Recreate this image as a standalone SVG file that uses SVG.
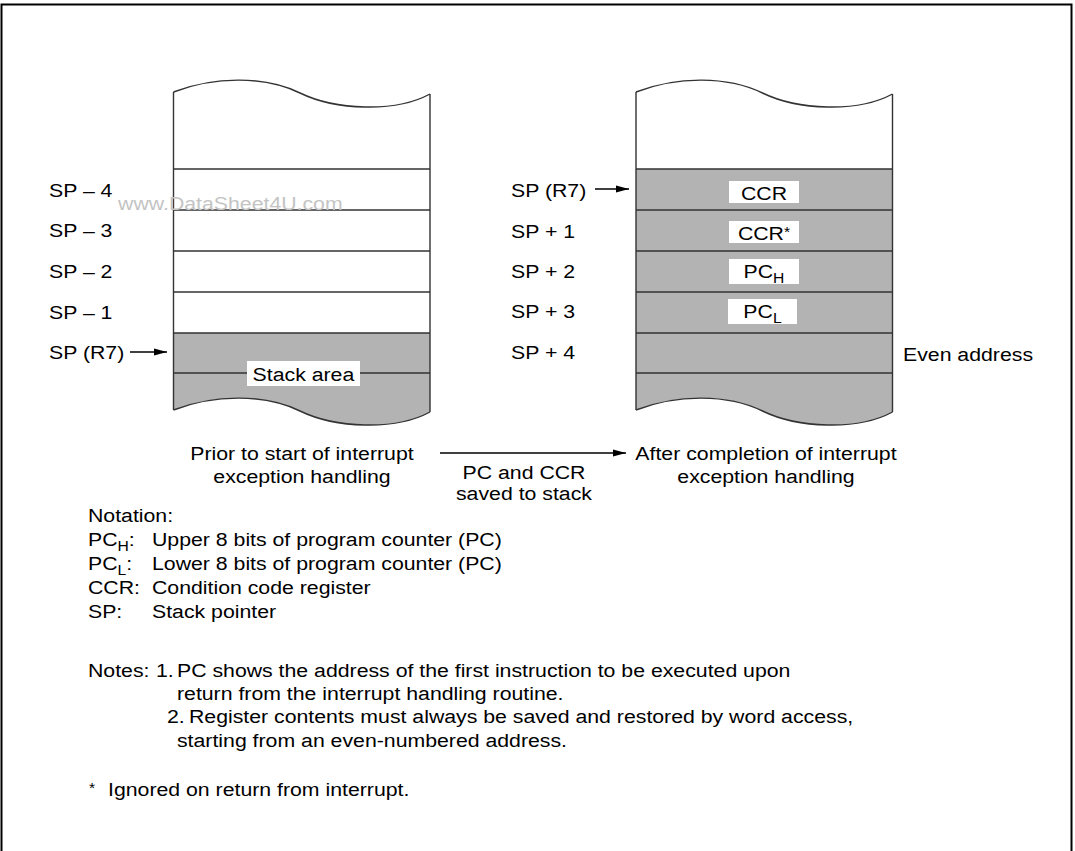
<svg xmlns="http://www.w3.org/2000/svg" width="1075" height="851" viewBox="0 0 1075 851">
<defs>
<marker id="ah" markerWidth="13" markerHeight="8" refX="13" refY="4" orient="auto" markerUnits="userSpaceOnUse">
<path d="M0,0.5 L13,4 L0,7.5 Z" fill="#000"/>
</marker>
</defs>
<style>
text{font-family:"Liberation Sans",Arial,Helvetica,sans-serif;font-size:19px;fill:#000;transform-box:fill-box;transform-origin:0% 50%;transform:scale(1.12,1)}
text.c{transform-origin:50% 50%}
.ln{stroke:#333;stroke-width:1.4;fill:none}
.gray{fill:#b3b3b3}
.wbox{fill:#fff}
.arr{stroke:#000;stroke-width:1.3;fill:none;marker-end:url(#ah)}
text.wm{fill:#c4c4c4}
.sub{font-size:14px}
</style>
<rect x="1.5" y="4.5" width="1070" height="900" fill="#fff" stroke="#000" stroke-width="2"/>

<g id="stack-before">
<path d="M173.5,92 C215,76 265,76 300,93 C335,110 395,113 430,94 L430,412 C395,431 335,428 300,411 C265,394 215,394 173.5,410 Z" fill="#fff"/>
<path class="gray" d="M173.5,333 H430 V412 C395,431 335,428 300,411 C265,394 215,394 173.5,410 Z"/>
<path class="ln" d="M173.5,92 C215,76 265,76 300,93 C335,110 395,113 430,94"/>
<path class="ln" d="M173.5,410 C215,394 265,394 300,411 C335,428 395,431 430,412"/>
<path class="ln" d="M173.5,92 V410 M430,94 V412"/>
<path class="ln" d="M173.5,169 H430 M173.5,210 H430 M173.5,251 H430 M173.5,292 H430 M173.5,333 H430 M173.5,373 H430"/>
<rect class="wbox" x="247" y="361" width="113" height="25"/>
<text class="c" x="303.5" y="381.5" text-anchor="middle">Stack area</text>
</g>

<g id="labels-before">
<text x="49" y="197">SP – 4</text>
<text x="49" y="237">SP – 3</text>
<text x="49" y="278">SP – 2</text>
<text x="49" y="319">SP – 1</text>
<text x="49" y="359">SP (R7)</text>
</g>

<text class="wm" x="118" y="210">www.DataSheet4U.com</text>

<g id="stack-after">
<path d="M636,92 C677.5,76 727.5,76 762.5,93 C797.5,110 857.5,113 892.5,94 L892.5,412 C857.5,431 797.5,428 762.5,411 C727.5,394 677.5,394 636,410 Z" fill="#fff"/>
<path class="gray" d="M636,169 H892.5 V412 C857.5,431 797.5,428 762.5,411 C727.5,394 677.5,394 636,410 Z"/>
<path class="ln" d="M636,92 C677.5,76 727.5,76 762.5,93 C797.5,110 857.5,113 892.5,94"/>
<path class="ln" d="M636,410 C677.5,394 727.5,394 762.5,411 C797.5,428 857.5,431 892.5,412"/>
<path class="ln" d="M636,92 V410 M892.5,94 V412"/>
<path class="ln" d="M636,169 H892.5 M636,210 H892.5 M636,251 H892.5 M636,292 H892.5 M636,333 H892.5 M636,373 H892.5"/>
<g id="ccr">
<rect class="wbox" x="729" y="181" width="70" height="22"/>
<text class="c" x="764" y="200.5" text-anchor="middle">CCR</text>
</g>
<g id="ccr-star">
<rect class="wbox" x="729" y="221" width="70" height="22"/>
<text class="c" x="764" y="240.5" text-anchor="middle">CCR<tspan class="sub" dy="-3">*</tspan></text>
</g>
<g id="pch">
<rect class="wbox" x="729" y="259" width="70" height="25"/>
<text class="c" x="764" y="278.5" text-anchor="middle">PC<tspan class="sub" dy="5">H</tspan></text>
</g>
<g id="pcl">
<rect class="wbox" x="728" y="299" width="69" height="25"/>
<text class="c" x="762.5" y="318.5" text-anchor="middle">PC<tspan class="sub" dy="5">L</tspan></text>
</g>
</g>

<g id="labels-after">
<text x="511" y="197">SP (R7)</text>
<text x="511" y="238">SP + 1</text>
<text x="511" y="278">SP + 2</text>
<text x="511" y="318">SP + 3</text>
<text x="511" y="359">SP + 4</text>
<text x="903" y="361">Even address</text>
</g>

<g id="connectors">
<line class="arr" x1="130" y1="352" x2="167" y2="352"/>
<line class="arr" x1="595" y1="189" x2="629" y2="189"/>
<line class="arr" x1="440" y1="453" x2="626" y2="453"/>
</g>

<g id="captions">
<text class="c" x="302" y="460" text-anchor="middle">Prior to start of interrupt</text>
<text class="c" x="302" y="483" text-anchor="middle">exception handling</text>
<text class="c" x="524" y="479" text-anchor="middle">PC and CCR</text>
<text class="c" x="524" y="500" text-anchor="middle">saved to stack</text>
<text class="c" x="766" y="460" text-anchor="middle">After completion of interrupt</text>
<text class="c" x="766" y="483" text-anchor="middle">exception handling</text>
</g>

<g id="notation">
<text x="88" y="522">Notation:</text>
<text x="88" y="546">PC<tspan class="sub" dy="5">H</tspan><tspan dy="-5">:</tspan></text>
<text x="152" y="546">Upper 8 bits of program counter (PC)</text>
<text x="88" y="570">PC<tspan class="sub" dy="5">L</tspan><tspan dy="-5">:</tspan></text>
<text x="152" y="570">Lower 8 bits of program counter (PC)</text>
<text x="88" y="594">CCR:</text>
<text x="152" y="594">Condition code register</text>
<text x="88" y="618">SP:</text>
<text x="152" y="618">Stack pointer</text>
</g>

<g id="notes">
<text x="88" y="677">Notes:</text>
<text x="156" y="677">1.</text>
<text x="177" y="677">PC shows the address of the first instruction to be executed upon</text>
<text x="177" y="700">return from the interrupt handling routine.</text>
<text x="167" y="723">2.</text>
<text x="189" y="723">Register contents must always be saved and restored by word access,</text>
<text x="177" y="747">starting from an even-numbered address.</text>
<text x="89" y="793" class="sub">*</text>
<text x="108" y="796">Ignored on return from interrupt.</text>
</g>
</svg>
